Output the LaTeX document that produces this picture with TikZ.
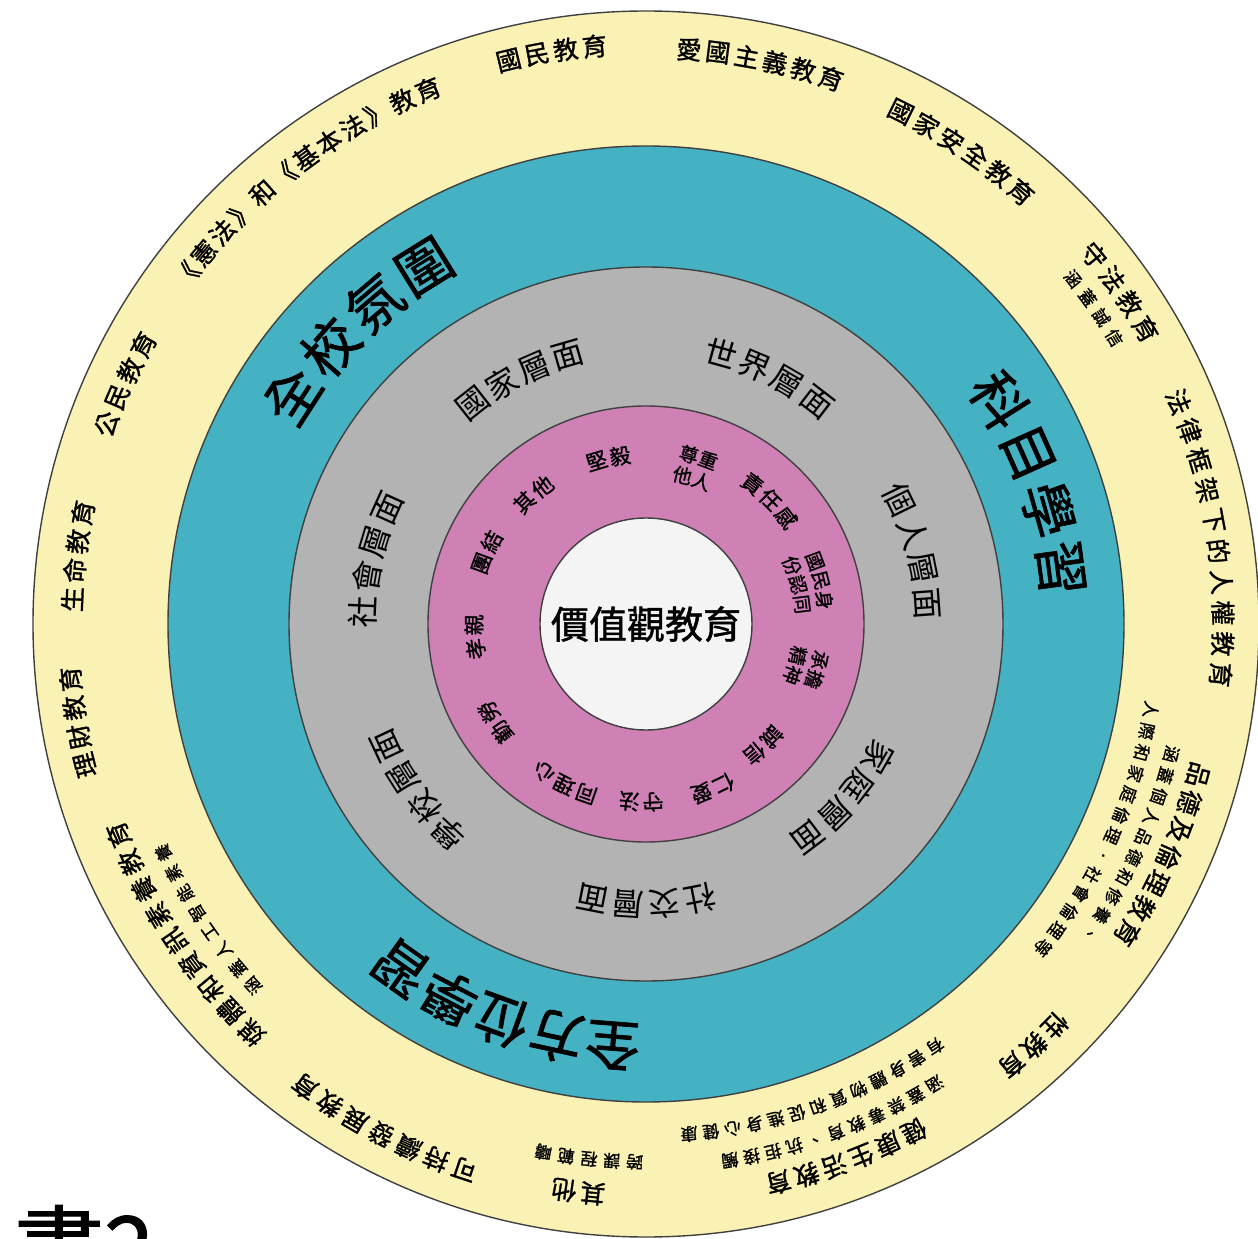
\documentclass[tikz,border=0pt]{standalone}
\usepackage{fontspec}
\newfontfamily\cjk[FakeBold=1.3]{Noto Sans CJK TC}
\newfontfamily\cjkr{Noto Sans CJK TC}
\definecolor{ringY}{HTML}{FAF2B4}
\definecolor{ringT}{HTML}{45B2C4}
\definecolor{ringG}{HTML}{B3B3B3}
\definecolor{ringP}{HTML}{CF80B5}
\definecolor{ringW}{HTML}{F4F4F4}
\newcommand\fyel{\cjk\fontsize{25}{25}\selectfont}
\newcommand\fsub{\cjk\fontsize{17}{17}\selectfont}
\newcommand\fgry{\cjkr\fontsize{32}{32}\selectfont}
\newcommand\fpnk{\cjk\fontsize{21}{21}\selectfont}
\newcommand\fpns{\cjk\fontsize{19}{19}\selectfont}
\newcommand\ftea{\cjk\fontsize{55}{55}\selectfont}
\tikzset{
  ringchar/.style={inner sep=0pt, text=black},
  ring/.style={circle, draw=black!75, line width=1.4pt, inner sep=0pt},
}
\makeatletter
\newcount\rt@n \newcount\rt@i \newcount\rt@k
\def\rt@stop{\rt@stop}
\def\rt@cnt#1{\ifx#1\rt@stop\else\advance\rt@n by 1\relax\expandafter\rt@cnt\fi}
\def\rt@put#1{\ifx#1\rt@stop\else
  \pgfmathsetmacro\rt@a{\rt@s-\the\rt@i*\rt@d}%
  \global\advance\rt@k by 1\relax
  \node[ringchar, font=\rt@f, rotate=\rt@a-90] (ch\the\rt@k) at (\rt@a:\rt@r) {\vphantom{國}#1};%
  \advance\rt@i by 1\relax
  \expandafter\rt@put\fi}
\newcommand\ringtext[5]{%
  \def\rt@f{#1}\def\rt@r{#2}%
  \rt@n=0\relax\rt@cnt#5\rt@stop
  \pgfmathsetmacro\rt@d{(#4)/(#2)*180/pi}%
  \pgfmathsetmacro\rt@s{(#3)+(\the\rt@n-1)/2*\rt@d}%
  \rt@i=0\relax\rt@put#5\rt@stop}
\makeatother
\begin{document}
\begin{tikzpicture}[x=1pt,y=1pt]
\useasboundingbox (-646,-615) rectangle (612,624);
\begin{scope}
\clip (-646,-615) rectangle (612,624);
\fill[white] (-646,-615) rectangle (612,624);
\node[ring, fill=ringY, minimum size=1226pt] (yel) at (0,0) {};
\node[ring, fill=ringT, minimum size=956pt] (tea) at (0,0) {};
\node[ring, fill=ringG, minimum size=714pt] (gry) at (0,0) {};
\node[ring, fill=ringP, minimum size=436pt] (pnk) at (0,0) {};
\node[ring, fill=ringW, minimum size=212pt] (wht) at (0,0) {};
\node[font=\cjk\fontsize{38}{38}\selectfont] (core) at (0,0) {價值觀教育};
% yellow ring
\ringtext{\fyel}{580}{99.4}{29}{國民教育}
\ringtext{\fyel}{576}{78.5}{29}{愛國主義教育}
\ringtext{\fyel}{572}{56.3}{29}{國家安全教育}
\ringtext{\fyel}{580}{35}{30}{守法教育}
\ringtext{\fsub}{549}{35.2}{24}{涵蓋誠信}
\ringtext{\fyel}{577}{8.8}{31}{法律框架下的人權教育}
\ringtext{\fyel}{572}{-24}{29}{品德及倫理教育}
\ringtext{\fsub}{541}{-24.4}{22}{涵蓋個人品德和修養、}
\ringtext{\fsub}{512}{-24.4}{22}{人際和家庭倫理．社會倫理等}
\ringtext{\fyel}{573}{-47.4}{29}{性教育}
\ringtext{\fyel}{574}{-69.4}{29}{健康生活教育}
\ringtext{\fsub}{543}{-69.5}{22}{涵蓋禁毒教育、抗拒接觸}
\ringtext{\fsub}{512}{-70.4}{22}{有害身體物質和促進身心健康}
\ringtext{\fyel}{572}{-96.8}{29}{其他}
\ringtext{\fsub}{538}{-96.1}{23}{跨課程範疇}
\ringtext{\fyel}{575}{242.6}{30}{可持續發展教育}
\ringtext{\fyel}{568}{213.9}{30}{媒體和資訊素養教育}
\ringtext{\fsub}{534}{214}{23}{涵蓋人工智能素養}
\ringtext{\fyel}{578}{189.8}{29}{理財教育}
\ringtext{\fyel}{574}{173.2}{29}{生命教育}
\ringtext{\fyel}{575}{155.3}{29}{公民教育}
\ringtext{\fyel}{577}{127.5}{28}{《憲法》和《基本法》教育}
% teal ring
\ringtext{\ftea}{420}{134.5}{62}{全校氛圍}
\ringtext{\ftea}{418}{20}{60}{科目學習}
\ringtext{\ftea}{422}{250}{57}{全方位學習}
% gray ring
\ringtext{\fgry}{280}{117.2}{36}{國家層面}
\ringtext{\fgry}{280}{63.4}{36}{世界層面}
\ringtext{\fgry}{282}{15.1}{36}{個人層面}
\ringtext{\fgry}{268}{-41.3}{36}{家庭層面}
\ringtext{\fgry}{280}{-90}{36}{社交層面}
\ringtext{\fgry}{287}{215.9}{36}{學校層面}
\ringtext{\fgry}{283}{166.7}{36}{社會層面}
% pink ring
\ringtext{\fpnk}{170}{102.8}{24}{堅毅}
\ringtext{\fpns}{175}{72.5}{20}{尊重}
\ringtext{\fpns}{153}{72.5}{20}{他人}
\ringtext{\fpnk}{176}{45}{24}{責任感}
\ringtext{\fpns}{180}{14}{20}{國民身}
\ringtext{\fpns}{157}{14.5}{20}{份認同}
\ringtext{\fpns}{177}{-15}{20}{承擔}
\ringtext{\fpns}{155}{-15.5}{20}{精神}
\ringtext{\fpnk}{169}{-46}{24}{誠信}
\ringtext{\fpnk}{178}{-68}{24}{仁愛}
\ringtext{\fpnk}{178}{-91.6}{24}{守法}
\ringtext{\fpnk}{180}{243}{24}{同理心}
\ringtext{\fpnk}{180}{213}{24}{勤勞}
\ringtext{\fpnk}{172}{184.3}{24}{孝親}
\ringtext{\fpnk}{175}{155.8}{24}{團結}
\ringtext{\fpnk}{172}{131}{24}{其他}
% caption fragment
\node[anchor=base west, inner sep=0pt, font=\cjk\fontsize{90}{90}\selectfont] (cap) at (-632,-657) {書2};
\end{scope}
\end{tikzpicture}
\end{document}
